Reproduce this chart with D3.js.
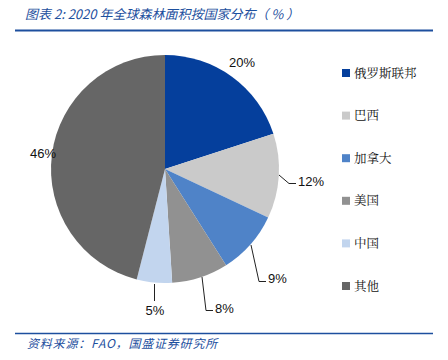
<!DOCTYPE html>
<html>
<head>
<meta charset="utf-8">
<script src="https://cdn.jsdelivr.net/npm/d3@7.9.0/dist/d3.min.js"></script>
<style>
  body { margin: 0; background: #fff; }
  svg { display: block; font-family: "Noto Sans CJK SC", "Noto Sans", sans-serif; }
</style>
</head>
<body>
<svg width="448" height="360"></svg>
<script>
// 2020 forest area share by country (%)
const countries = ["俄罗斯联邦", "巴西", "加拿大", "美国", "中国", "其他"];
const shares = [20, 12, 9, 8, 5, 46];
const colors = ["#053f9c", "#cacaca", "#4f83c8", "#919191", "#c2d5ee", "#666666"];

const svg = d3.select("svg");
const blue = "#1d4f9e";

// header + footer
svg.append("text")
    .attr("x", 25).attr("y", 19)
    .attr("fill", blue)
    .attr("font-size", 13)
    .attr("font-style", "italic")
    .text("图表 2:  2020 年全球森林面积按国家分布（ % ）");
svg.append("line").attr("x1", 15).attr("x2", 433).attr("y1", 30.5).attr("y2", 30.5)
    .attr("stroke", blue).attr("stroke-width", 2);
svg.append("line").attr("x1", 15).attr("x2", 433).attr("y1", 333.5).attr("y2", 333.5)
    .attr("stroke", blue).attr("stroke-width", 1.5);
svg.append("text")
    .attr("x", 27).attr("y", 348)
    .attr("fill", blue)
    .attr("font-size", 12)
    .attr("letter-spacing", 0.8)
    .attr("font-style", "italic")
    .text("资料来源：FAO，国盛证券研究所");

// pie
const cx = 165, cy = 169, r = 114;
const data = countries.map((c, i) => ({ name: c, value: shares[i], color: colors[i] }));
const pie = d3.pie().sort(null).value(d => d.value);
const arc = d3.arc().innerRadius(0).outerRadius(r);
const arcs = pie(data);

const g = svg.append("g").attr("transform", `translate(${cx},${cy})`);
g.selectAll("path")
    .data(arcs)
    .enter()
    .append("path")
    .attr("d", arc)
    .attr("fill", d => d.data.color);

// label anchors and leader lines
const labelPos = {
  "俄罗斯联邦": { x: 242, y: 67, anchor: "middle" },
  "巴西": { x: 298, y: 186, anchor: "start", line: [[279, 175], [289, 183.5], [296, 183.5]] },
  "加拿大": { x: 268, y: 283, anchor: "start", line: [[251, 245], [259, 281.5], [266, 281.5]] },
  "美国": { x: 215, y: 313, anchor: "start", line: [[202, 277], [206, 310.5], [213, 310.5]] },
  "中国": { x: 155, y: 315, anchor: "middle", line: [[154.5, 284], [154.5, 301]] },
  "其他": { x: 43, y: 158, anchor: "middle" }
};

arcs.forEach(d => {
  const p = labelPos[d.data.name];
  if (p.line) {
    svg.append("path")
        .attr("d", d3.line()(p.line))
        .attr("fill", "none")
        .attr("stroke", "#222")
        .attr("stroke-width", 1);
  }
  svg.append("text")
      .attr("x", p.x).attr("y", p.y)
      .attr("text-anchor", p.anchor)
      .attr("font-size", 13)
      .attr("font-family", "Liberation Sans, Arial, sans-serif")
      .attr("fill", "#111")
      .text(d.data.value + "%");
});

// legend
const ly = d3.scalePoint().domain(countries).range([73, 286]);
const legend = svg.append("g");
const items = legend.selectAll("g")
    .data(data)
    .enter()
    .append("g")
    .attr("transform", d => `translate(342,${ly(d.name)})`);
items.append("rect")
    .attr("x", 0).attr("y", -4)
    .attr("width", 8).attr("height", 8)
    .attr("fill", d => d.color);
items.append("text")
    .attr("x", 12).attr("y", 4.5)
    .attr("font-size", 12.5)
    .attr("font-family", "Noto Serif CJK SC, Noto Sans CJK SC, serif")
    .attr("fill", "#111")
    .text(d => d.name);
</script>
</body>
</html>
